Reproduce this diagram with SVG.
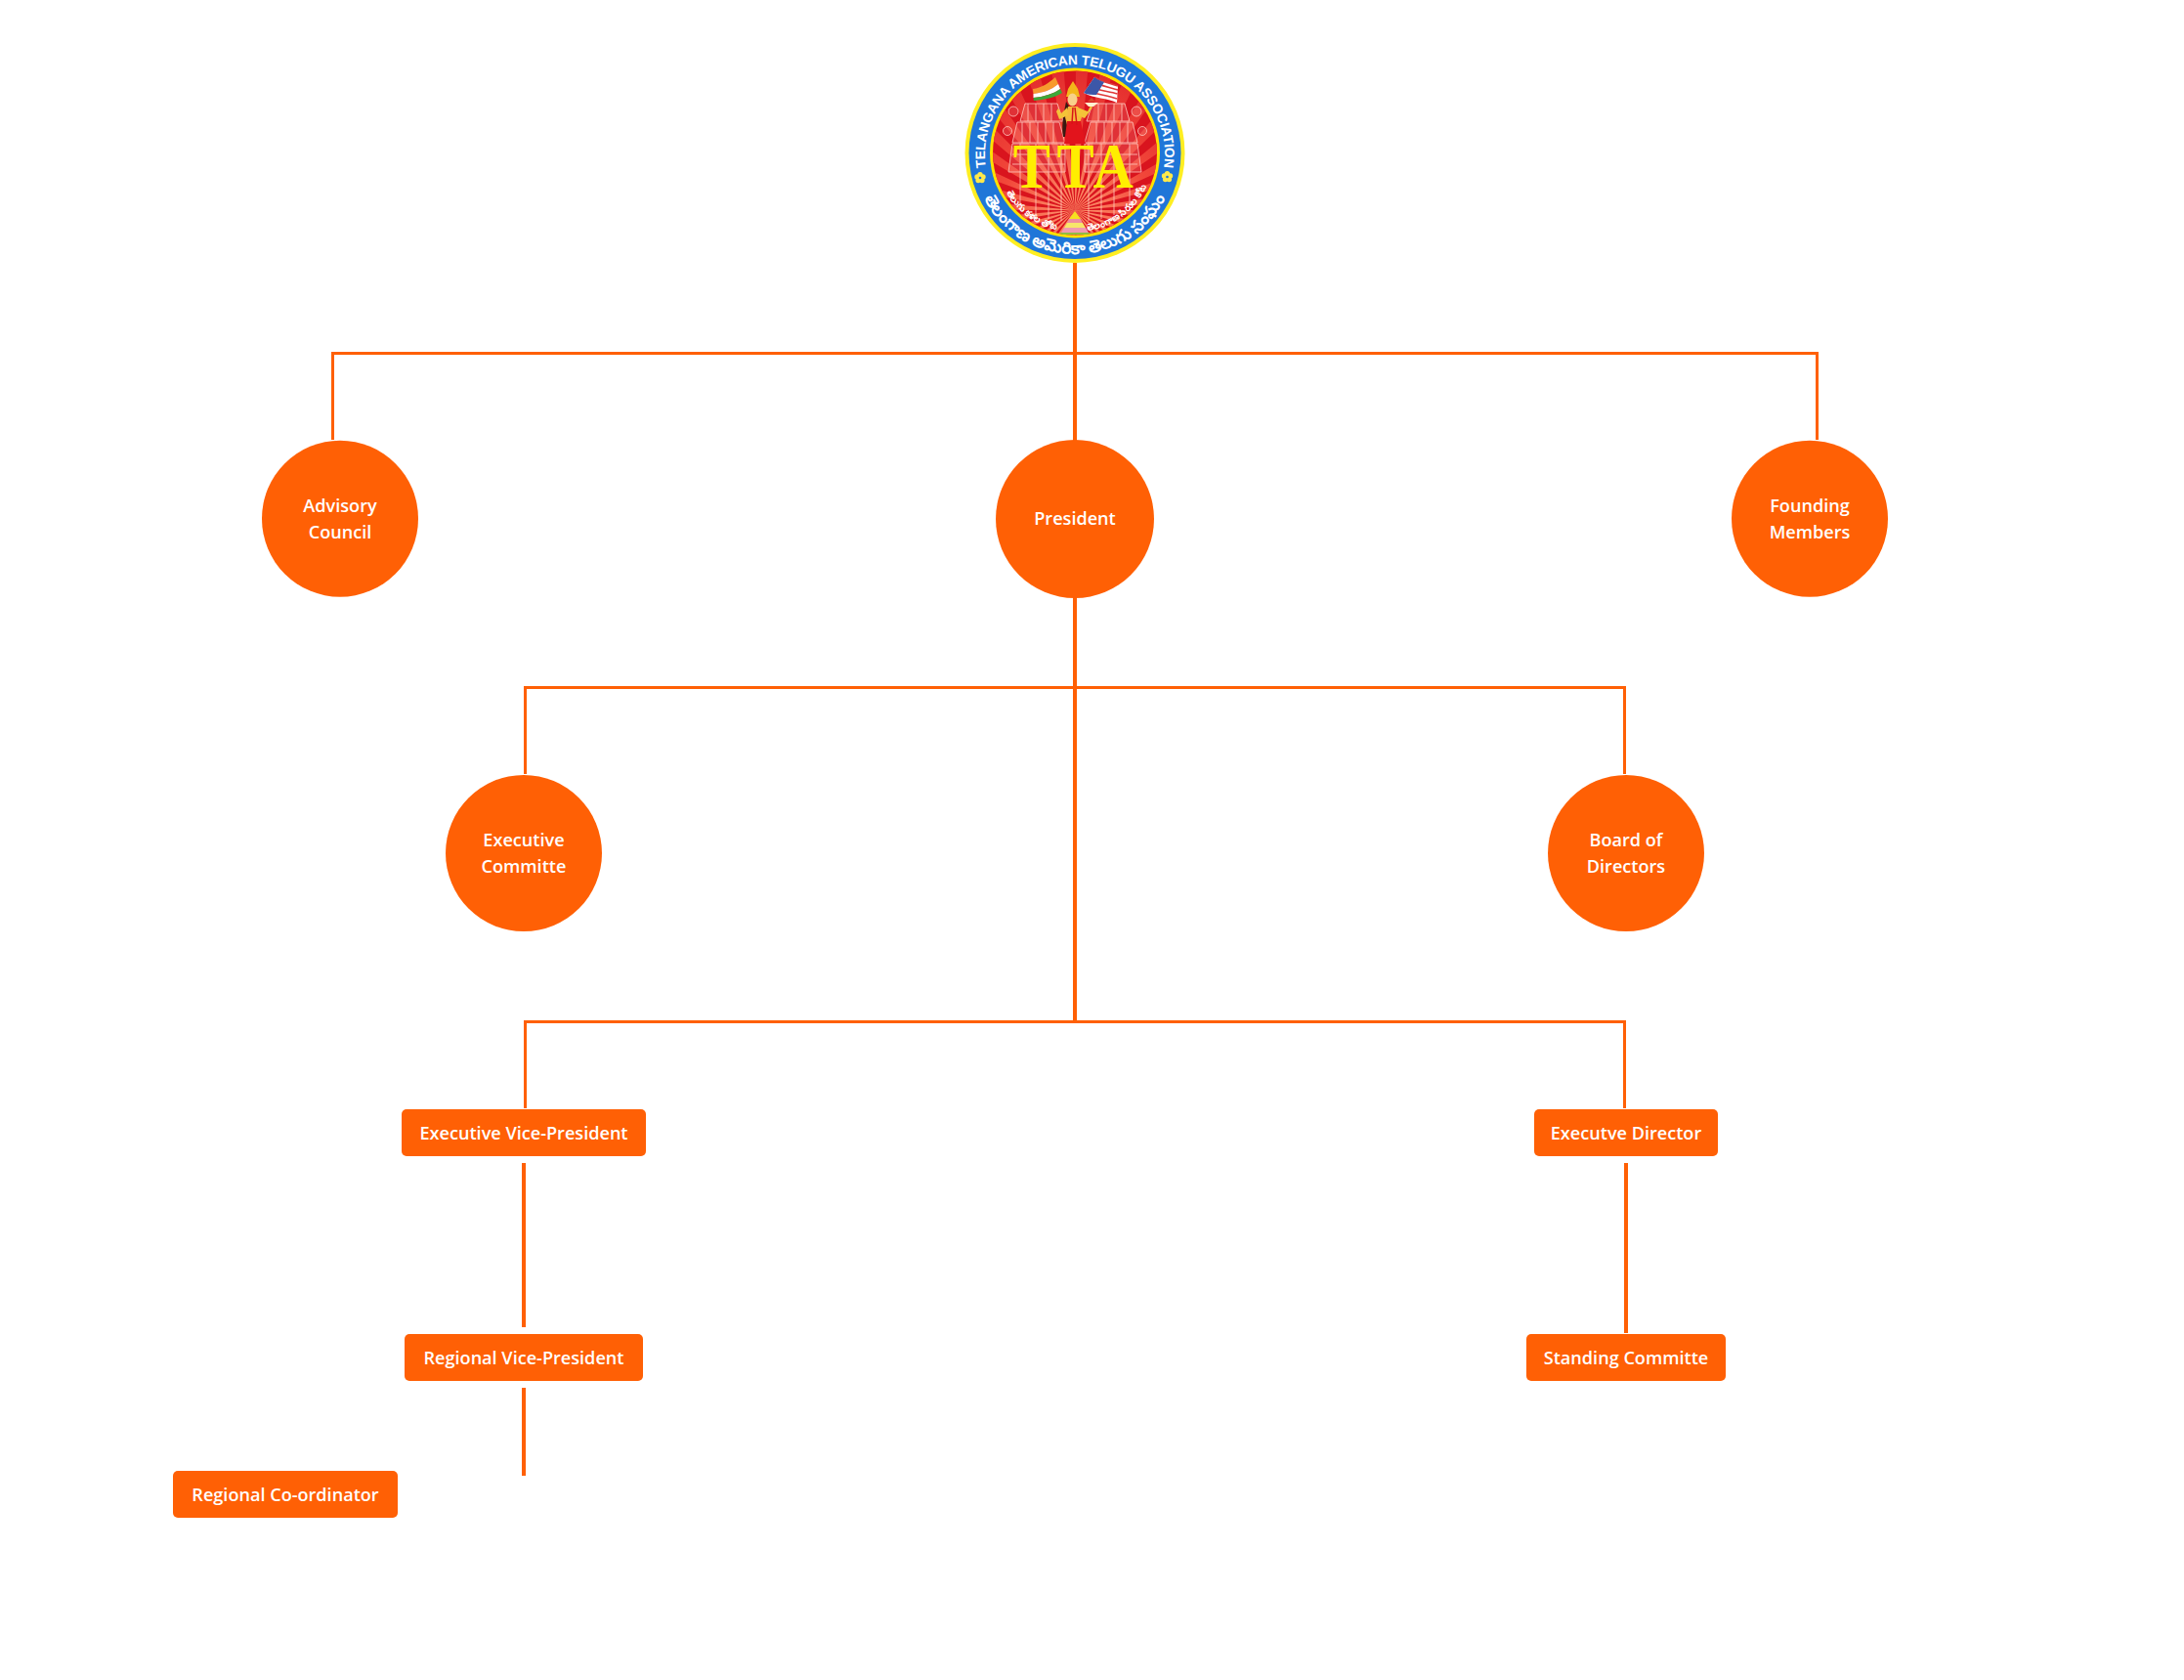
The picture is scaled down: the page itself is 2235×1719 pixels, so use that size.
<svg xmlns="http://www.w3.org/2000/svg" xmlns:xlink="http://www.w3.org/1999/xlink" width="2235" height="1719" viewBox="0 0 2235 1719">
<style>
.n{fill:#ff6005}
.t{font-family:"Open Sans","Noto Sans",sans-serif;font-weight:600;font-size:18.100px;fill:#fff;text-anchor:middle}
.c{fill:none;stroke:#ff6005;stroke-width:3}
.v{fill:none;stroke:#ff6005;stroke-width:4}
.tp{fill:#ffb9ae;fill-opacity:.18;stroke:#ffc6bc;stroke-width:.9;stroke-opacity:.9}
.tel{font-family:"Noto Sans","DejaVu Sans",sans-serif;font-weight:700;fill:#fff;text-anchor:middle}
</style>
<defs>
<radialGradient id="rg" gradientUnits="userSpaceOnUse" cx="1100" cy="215" r="150"><stop offset="0" stop-color="#ff9a70"/><stop offset=".5" stop-color="#f2483a"/><stop offset="1" stop-color="#e22a2c"/></radialGradient>
<clipPath id="cp"><circle cx="1100" cy="156.500" r="84"/></clipPath>
<path id="arcTop" d="M1012 185A92 92 0 1 1 1188 185"/>
<path id="arcBot" d="M998 174A103.500 103.500 0 0 0 1202 174"/>
<path id="arcL" d="M1023.900 184.200A81 81 0 0 0 1094.300 237.300"/>
<path id="arcR" d="M1105.700 237.300A81 81 0 0 0 1176.100 184.200"/>
<g id="flower"><circle cx="0" cy="-3.200" r="2.700"/><circle cx="3" cy="-1" r="2.700"/><circle cx="1.900" cy="2.600" r="2.700"/><circle cx="-1.900" cy="2.600" r="2.700"/><circle cx="-3" cy="-1" r="2.700"/><circle r="1.300" fill="#1f76d8"/></g>
<g id="tower">
<path class="tp" d="M1044 124 1049 106H1082L1088 124Z"/>
<path class="tp" d="M1036 146 1041 125H1084L1090 146Z"/>
<path class="tp" d="M1032 176 1036 147H1090V176Z"/>
<path class="tp" d="M1052 106V124M1060 106V124M1068 106V124M1076 106V124M1046 125V146M1054 125V146M1062 125V146M1070 125V146M1078 125V146M1044 147V215M1060 147V220M1073 147V224M1086 147V226M1036 158H1090M1036 168H1090"/>
<circle class="tp" cx="1037" cy="114" r="5"/>
<circle class="tp" cx="1031" cy="134" r="4.500"/>
</g>
</defs>
<rect width="2235" height="1719" fill="#fff"/>
<g id="connectors">
<path class="v" d="M1100 269V1047"/>
<path class="c" d="M340.500 450V361.500H1859.500V450"/>
<path class="c" d="M537.500 792V703.500H1662.500V792"/>
<path class="c" d="M537.500 1134V1045.500H1662.500V1134"/>
<path class="v" d="M536 1190V1358M536 1420V1510M1664 1190V1364"/>
</g>
<g id="logo">
<circle cx="1100" cy="156.500" r="112.500" fill="#ffee22"/>
<circle cx="1100" cy="156.500" r="108.500" fill="#1f76d8"/>
<circle cx="1100" cy="156.500" r="87" fill="#ffe100"/>
<circle cx="1100" cy="156.500" r="84" fill="#d9141e"/>
<g clip-path="url(#cp)">
<circle cx="1100" cy="215" r="80" fill="none" stroke="url(#rg)" stroke-width="160" stroke-dasharray="6.980 6.980"/>
<use xlink:href="#tower" href="#tower"/>
<use xlink:href="#tower" href="#tower" transform="matrix(-1 0 0 1 2200 0)"/>
</g>
<g id="flag-india">
<path d="M1057 91C1066 90 1073 85 1080 79L1083 86C1076 92 1067 95 1057.500 96Z" fill="#f79a2e"/>
<path d="M1057.500 96C1067 95 1076 92 1083 86L1085 91C1078 96 1068 99 1057.500 100Z" fill="#fff"/>
<path d="M1057.500 100C1068 99 1078 96 1085 91L1087 95C1079 100 1069 102 1058 103Z" fill="#3da83a"/>
</g>
<g id="flag-usa">
<path d="M1109 95 1120 79C1128 84 1136 85 1144 88L1143 105C1133 100 1120 101 1109 95Z" fill="#fff"/>
<path d="M1120 79C1128 84 1136 85 1144 88M1117 83C1126 88 1135 89 1144 92M1114 88C1124 93 1134 93 1143.500 96M1111 92C1122 97 1133 97 1143 101" fill="none" stroke="#df3a3a" stroke-width="1.600"/>
<path d="M1109 95 1120 79C1124 82 1127 83 1130 84L1122 97C1118 97 1113 97 1109 95Z" fill="#3c57a8"/>
</g>
<g id="goddess">
<path d="M1091 104C1088 118 1086 130 1088 140L1094 140 1096 112Z" fill="#3a1a12"/>
<path d="M1098 83 1103 91 1105 99H1091L1093 91Z" fill="#f3b71a"/>
<ellipse cx="1097.500" cy="102" rx="5" ry="6.500" fill="#f8d08a"/>
<path d="M1093 109H1103L1107 120 1104 128H1092L1090 120Z" fill="#f6b83c"/>
<path d="M1092 110 1086 116 1083 111 1081 114 1084 122 1093 118ZM1103 110 1113 114 1116 108 1118 110 1110 121 1103 118Z" fill="#f4c338"/>
<path d="M1110 105H1124L1119 109H1114Z" fill="#fff3d0"/>
<path d="M1113 104 1117 100 1121 104Z" fill="#d84a2c"/>
<path d="M1092 124H1106L1111 147H1089Z" fill="#e2141c"/>
<path d="M1098 110 1097 127M1100 110 1102 128" stroke="#d81418" stroke-width="1.500" fill="none"/>
</g>
<g id="cake">
<path d="M1100 216 1106 224H1094Z" fill="#f6e020"/>
<path d="M1094 224H1106L1108 228H1092Z" fill="#ef8ca0"/>
<path d="M1092 228H1108L1111 233H1089Z" fill="#f7e66a"/>
<path d="M1089 233H1111L1114 238H1086Z" fill="#ef9ab0"/>
<path d="M1086 238H1114L1117 238.500 1112 240H1088L1083 238.500Z" fill="#8fbf40"/>
</g>
<text x="1178 1229 1271" y="192" transform="matrix(.88 0 0 1 0 0)" font-family="Liberation Serif,serif" font-weight="700" font-size="65" fill="#ffee00">TTA</text>
<text font-family="Liberation Sans,sans-serif" font-weight="700" font-size="13.800" letter-spacing="-.2" fill="#fff" text-anchor="middle"><textPath xlink:href="#arcTop" href="#arcTop" startOffset="50%">TELANGANA AMERICAN TELUGU ASSOCIATION</textPath></text>
<text class="tel" font-size="17"><textPath xlink:href="#arcBot" href="#arcBot" startOffset="50%">తెలంగాణ అమెరికా తెలుగు సంఘం</textPath></text>
<text class="tel" font-size="9.500"><textPath xlink:href="#arcL" href="#arcL" startOffset="50%">తెలుగు కళల తోట</textPath></text>
<text class="tel" font-size="9.500"><textPath xlink:href="#arcR" href="#arcR" startOffset="50%">తెలంగాణ సిరుల కోట</textPath></text>
<use xlink:href="#flower" href="#flower" x="1003" y="182" fill="#ffe94a"/>
<use xlink:href="#flower" href="#flower" x="1194.500" y="181" fill="#ffe94a"/>
</g>
<g id="advisory"><circle class="n" cx="348" cy="530.700" r="80"/><text class="t" x="348" y="524">Advisory</text><text class="t" x="348" y="551">Council</text></g>
<g id="president"><circle class="n" cx="1100" cy="531" r="81"/><text class="t" x="1100" y="537">President</text></g>
<g id="founding"><circle class="n" cx="1852" cy="530.700" r="80"/><text class="t" x="1852" y="524">Founding</text><text class="t" x="1852" y="551">Members</text></g>
<g id="exec-committee"><circle class="n" cx="536" cy="873" r="80"/><text class="t" x="536" y="866">Executive</text><text class="t" x="536" y="893">Committe</text></g>
<g id="board"><circle class="n" cx="1664" cy="873" r="80"/><text class="t" x="1664" y="866">Board of</text><text class="t" x="1664" y="893">Directors</text></g>
<g id="evp"><rect class="n" x="411" y="1135" width="250" height="48" rx="5"/><text class="t" x="536" y="1166">Executive Vice-President</text></g>
<g id="ed"><rect class="n" x="1570" y="1135" width="188" height="48" rx="5"/><text class="t" x="1664" y="1166">Executve Director</text></g>
<g id="rvp"><rect class="n" x="414" y="1365" width="244" height="48" rx="5"/><text class="t" x="536" y="1396">Regional Vice-President</text></g>
<g id="sc"><rect class="n" x="1562" y="1365" width="204" height="48" rx="5"/><text class="t" x="1664" y="1396">Standing Committe</text></g>
<g id="rc"><rect class="n" x="177" y="1505" width="230" height="48" rx="5"/><text class="t" x="292" y="1536">Regional Co-ordinator</text></g>
</svg>
